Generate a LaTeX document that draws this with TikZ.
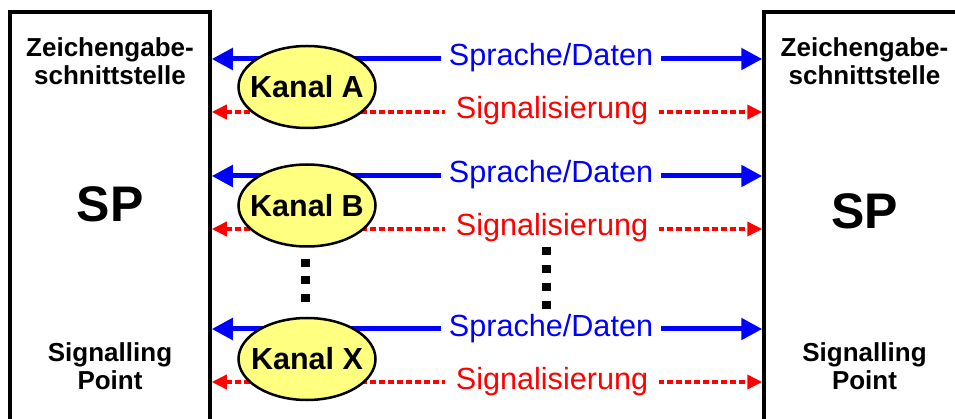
\documentclass[tikz,border=0pt]{standalone}
\usepackage{fontspec}
\setmainfont{Liberation Sans}
\usetikzlibrary{arrows.meta,shapes.geometric}

\definecolor{chanfill}{RGB}{255,255,128}
\definecolor{sigred}{RGB}{255,0,0}
\definecolor{datablue}{RGB}{0,0,255}

\begin{document}
\begin{tikzpicture}[x=1pt,y=-1pt,
  spbox/.style={draw=black, line width=3.5pt, minimum width=200pt, minimum height=440pt, inner sep=0pt},
  boxlabel/.style={font=\bfseries\fontsize{26}{28.5}\selectfont, align=center, inner sep=0pt, anchor=north},
  sptext/.style={font=\bfseries\fontsize{50}{55}\selectfont, inner sep=0pt, anchor=base},
  channel/.style={ellipse, draw=black, line width=2.5pt, fill=chanfill, minimum width=137pt, minimum height=82pt, inner sep=0pt,
    label={[font=\bfseries\fontsize{30.5}{32}\selectfont, inner sep=0pt]center:#1}},
  datalink/.style={datablue, line width=5pt, {Triangle[length=21pt,width=21pt]}-{Triangle[length=21pt,width=21pt]}},
  siglink/.style={sigred, line width=3.5pt, dash pattern=on 6pt off 3pt, {Triangle[length=15pt,width=14pt]}-{Triangle[length=15pt,width=14pt]}},
  datalabel/.style={text=datablue, fill=white, font=\fontsize{30.6}{32}\selectfont, inner xsep=8pt, inner ysep=0pt, anchor=base},
  siglabel/.style={text=sigred, fill=white, font=\fontsize{30.6}{32}\selectfont, inner xsep=11pt, inner ysep=0pt, anchor=base},
  ellipsis/.style={fill=black}
]
\useasboundingbox (0,0) rectangle (955,419);
\clip (0,0) rectangle (955,419);

% the two signalling points (boxes run past the lower and right edges)
\node[spbox] (spL) at (110,232) {};
\node[spbox] (spR) at (864,232) {};

\node[boxlabel] (ifL) at (110,37) {Zeichengabe-\\schnittstelle};
\node[boxlabel] (ifR) at (864.5,37) {Zeichengabe-\\schnittstelle};
\node[sptext] (nameL) at (110,222) {SP};
\node[sptext] (nameR) at (864.5,229) {SP};
\node[boxlabel] (ptL) at (110,342) {Signalling\\Point};
\node[boxlabel] (ptR) at (864.5,342) {Signalling\\Point};

% row heights of the channel links
\coordinate (dA) at (0,59);
\coordinate (sA) at (0,112);
\coordinate (dB) at (0,176);
\coordinate (sB) at (0,229);
\coordinate (dX) at (0,329);
\coordinate (sX) at (0,382);

\foreach \r in {A,B,X}{
  \draw[datalink] (spL.east |- d\r) -- (spR.west |- d\r);
  \draw[siglink] (spL.east |- s\r) -- (spR.west |- s\r);
}

% channels
\node[channel=Kanal A] (kA) at (307,87) {};
\node[channel=Kanal B] (kB) at (307,205.5) {};
\node[channel=Kanal X] (kX) at (307,359) {};

% link labels
\foreach \r/\y in {A/59,B/176,X/329}{
  \node[datalabel] (lab d\r) at (551,\y+7) {Sprache/Daten};
}
\foreach \r/\y in {A/112,B/229,X/382}{
  \node[siglabel] (lab s\r) at (552,\y+7) {Signalisierung};
}

% vertical ellipsis marks
\foreach \y in {263,280,298}{
  \fill[ellipsis] (305-4.5,\y-4) rectangle (305+4.5,\y+4);
}
\foreach \y in {251,269,287,305}{
  \fill[ellipsis] (546-4.5,\y-4) rectangle (546+4.5,\y+4);
}
\end{tikzpicture}
\end{document}
